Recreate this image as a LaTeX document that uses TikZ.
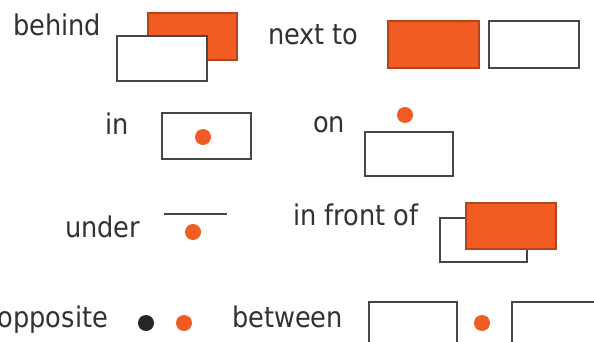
\documentclass[tikz,border=0pt]{standalone}
\usepackage{fontspec}
\setmainfont{DejaVu Sans Condensed}
\definecolor{myorange}{RGB}{240,92,36}
\definecolor{myedge}{RGB}{70,70,70}
\definecolor{mytext}{RGB}{50,50,50}
\begin{document}
\begin{tikzpicture}[x=1pt,y=-1pt,
  lbl/.style={inner sep=0pt,outer sep=0pt,text=mytext,font=\fontsize{28.5}{30}\selectfont},
  wbox/.style={draw=myedge,fill=white,line width=1.3pt,inner sep=0pt,outer sep=0pt},
  obox/.style={draw=myorange!75!black,fill=myorange,line width=1.3pt,inner sep=0pt,outer sep=0pt},
  odot/.style={circle,fill=myorange,minimum size=16pt,inner sep=0pt},
  kdot/.style={circle,fill=black!85,minimum size=16pt,inner sep=0pt}]
\useasboundingbox (0,0) rectangle (594,342);
\clip (0,0) rectangle (594,342);
\fill[white] (0,0) rectangle (594,342);
% behind
\node[lbl,anchor=base west] (tbehind) at (13,36) {behind};
\node[obox,minimum width=89pt,minimum height=47pt] (bo) at (192.5,36.5) {};
\node[wbox,minimum width=90pt,minimum height=45pt] (bw) at (162,58.5) {};
% next to
\node[lbl,anchor=base west] (tnext) at (268,45) {next to};
\node[obox,minimum width=91pt,minimum height=47pt] (no) at (433.5,44.5) {};
\node[wbox,minimum width=90pt,minimum height=47pt] (nw) at (534,44.5) {};
% in
\node[lbl,anchor=base west] (tin) at (105,135) {in};
\node[wbox,minimum width=89pt,minimum height=46pt] (iw) at (206.5,136) {};
\node[odot] (id) at (203,137) {};
% on
\node[lbl,anchor=base west] (ton) at (313,132) {on};
\node[odot] (od) at (405,115) {};
\node[wbox,minimum width=88pt,minimum height=44pt] (ow) at (409,154) {};
% under
\node[lbl,anchor=base west] (tunder) at (65,237) {under};
\coordinate (ul1) at (164,214);
\coordinate (ul2) at (227,214);
\draw[myedge,line width=1.3pt] (ul1) -- (ul2);
\node[odot] (ud) at (193,232) {};
% in front of
\node[lbl,anchor=base west] (tfront) at (293,225) {in front of};
\node[wbox,minimum width=87pt,minimum height=44pt] (fw) at (483.5,240) {};
\node[obox,minimum width=90pt,minimum height=46pt] (fo) at (511,226) {};
% opposite
\node[lbl,anchor=base east] (topp) at (108,327) {opposite};
\node[kdot] (pk) at (146,323) {};
\node[odot] (po) at (184,323) {};
% between
\node[lbl,anchor=base west] (tbetw) at (232,327) {between};
\node[wbox,minimum width=88pt,minimum height=58pt] (bw1) at (413,331) {};
\node[odot] (bd) at (482,323) {};
\node[wbox,minimum width=88pt,minimum height=58pt] (bw2) at (556,331) {};
\end{tikzpicture}
\end{document}
